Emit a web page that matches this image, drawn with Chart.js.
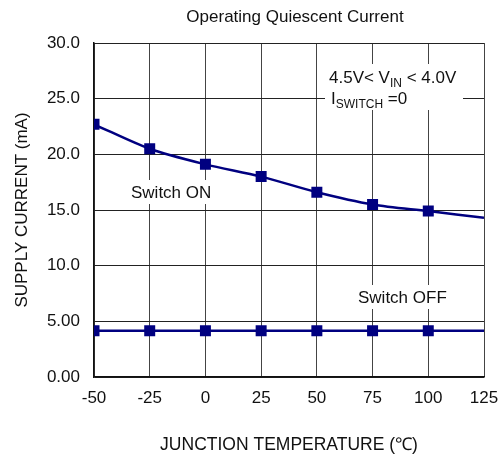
<!DOCTYPE html>
<html>
<head>
<meta charset="utf-8">
<script src="https://cdn.jsdelivr.net/npm/chart.js@4/dist/chart.umd.min.js"></script>
<style>
  html,body{margin:0;padding:0;background:#fff;}
  #wrap{width:501px;height:462px;position:relative;}
</style>
</head>
<body>
<div id="wrap"><canvas id="c" width="501" height="462"></canvas></div>
<script>
const chartTitle = "Operating Quiescent Current";
const xTitle = "JUNCTION TEMPERATURE (\u2103)";
const yTitle = "SUPPLY CURRENT (mA)";
const temperatures = [-50, -25, 0, 25, 50, 75, 100, 125];
const switchOn = [22.7, 20.5, 19.1, 18.0, 16.6, 15.5, 14.9, 14.3];
const switchOff = [4.15, 4.15, 4.15, 4.15, 4.15, 4.15, 4.15, 4.15];
const markerShown = [true, true, true, true, true, true, true, false];
const yTickLabels = {0: "0.00", 5: "5.00", 10: "10.0", 15: "15.0", 20: "20.0", 25: "25.0", 30: "30.0"};
const xTickLabels = {"-50": "-50", "-25": "-25", "0": "0", "25": "25", "50": "50", "75": "75", "100": "100", "125": "125"};

const FONT = "'Liberation Sans', Arial, sans-serif";
const NAVY = "#000080";

const annotations = {
  id: 'annotations',
  beforeDatasetsDraw(chart) {
    const ctx = chart.ctx;
    ctx.save();
    ctx.fillStyle = '#fff';
    ctx.fillRect(127, 180, 90, 24);
    ctx.fillRect(354, 285, 99, 24);
    ctx.fillRect(325, 64, 138, 46);
    ctx.fillStyle = '#111';
    ctx.textBaseline = 'alphabetic';
    ctx.textAlign = 'left';
    ctx.font = '17px ' + FONT;
    ctx.fillText('Switch ON', 131, 198);
    ctx.fillText('Switch OFF', 358, 303);
    let x = 329;
    const base1 = 83;
    ctx.font = '17px ' + FONT;
    let s = '4.5V< V';
    ctx.fillText(s, x, base1); x += ctx.measureText(s).width;
    ctx.font = '12px ' + FONT;
    ctx.fillText('IN', x, base1 + 4); x += ctx.measureText('IN').width;
    ctx.font = '17px ' + FONT;
    ctx.fillText(' < 4.0V', x, base1);
    x = 331;
    const base2 = 104;
    ctx.fillText('I', x, base2); x += ctx.measureText('I').width;
    ctx.font = '12px ' + FONT;
    ctx.fillText('SWITCH', x, base2 + 4); x += ctx.measureText('SWITCH').width;
    ctx.font = '17px ' + FONT;
    ctx.fillText(' =0', x, base2);
    ctx.restore();
  },
  afterDraw(chart) {
    const ctx = chart.ctx;
    ctx.save();
    ctx.fillStyle = '#111';
    ctx.font = '17px ' + FONT;
    ctx.textAlign = 'center';
    ctx.textBaseline = 'middle';
    ctx.fillText(chartTitle, 295, 17);
    ctx.restore();
  }
};

new Chart(document.getElementById('c'), {
  type: 'line',
  data: {
    datasets: [
      {
        label: 'Switch ON',
        data: temperatures.map((t, i) => ({x: t, y: switchOn[i]})),
        borderColor: NAVY,
        backgroundColor: NAVY,
        borderWidth: 2.5,
        pointStyle: 'rect',
        pointRadius: markerShown.map(m => m ? 6 : 0),
        pointHoverRadius: 0,
        tension: 0.3
      },
      {
        label: 'Switch OFF',
        data: temperatures.map((t, i) => ({x: t, y: switchOff[i]})),
        borderColor: NAVY,
        backgroundColor: NAVY,
        borderWidth: 2.5,
        pointStyle: 'rect',
        pointRadius: markerShown.map(m => m ? 6 : 0),
        pointHoverRadius: 0,
        tension: 0
      }
    ]
  },
  options: {
    responsive: false,
    animation: false,
    events: [],
    layout: {padding: {top: 43, right: 0, left: 0, bottom: 0}},
    plugins: {legend: {display: false}, title: {display: false}, tooltip: {enabled: false}},
    scales: {
      x: {
        type: 'linear',
        min: -50, max: 125,
        ticks: {
          stepSize: 25,
          padding: 11,
          color: '#111',
          font: {family: FONT, size: 17},
          callback: v => xTickLabels[String(v)]
        },
        grid: {color: '#444', lineWidth: 1, drawTicks: false},
        border: {display: true, color: '#111', width: 1.5},
        title: {display: true, text: xTitle, color: '#111', font: {family: FONT, size: 17.5}, padding: {top: 0, bottom: 6}},
        afterFit: s => { s.height = 85; s.paddingRight = 17; s.paddingLeft = 0; }
      },
      y: {
        min: 0, max: 30,
        ticks: {
          stepSize: 5,
          padding: 14,
          color: '#111',
          font: {family: FONT, size: 17},
          callback: v => yTickLabels[v]
        },
        grid: {color: '#222', lineWidth: 1, drawTicks: false},
        border: {display: true, color: '#111', width: 1.5},
        title: {display: true, text: yTitle, color: '#111', font: {family: FONT, size: 17}, padding: {top: 12, bottom: 0}},
        afterFit: s => { s.width = 94; s.paddingTop = 0; s.paddingBottom = 0; }
      }
    }
  },
  plugins: [annotations]
});
</script>
</body>
</html>
